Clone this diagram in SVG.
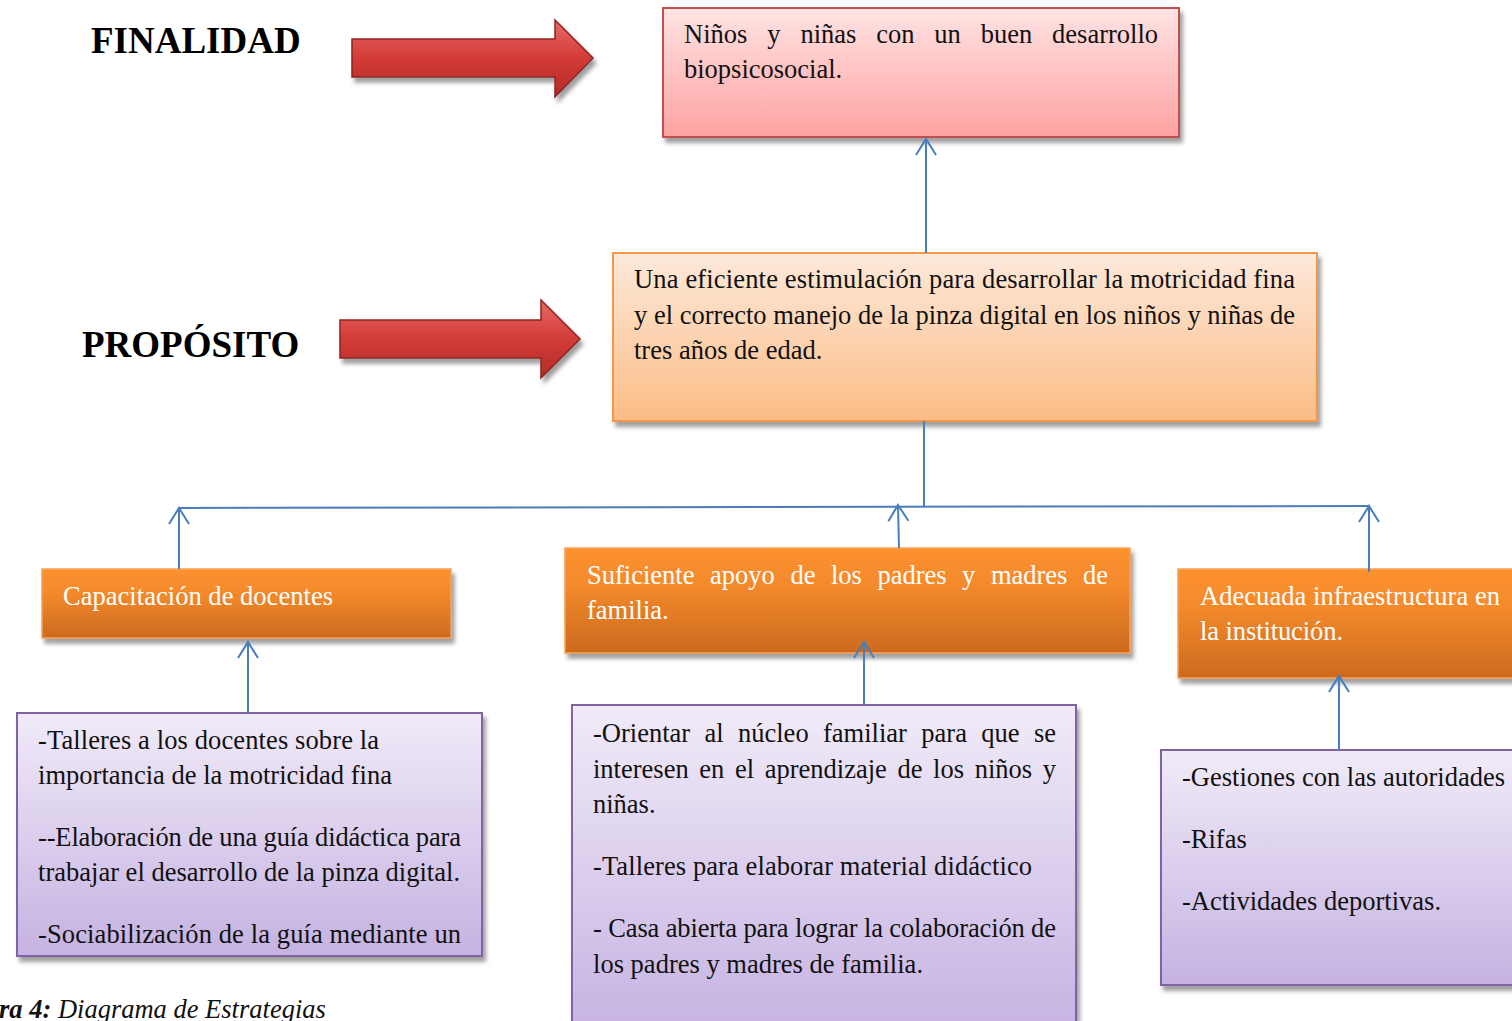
<svg xmlns="http://www.w3.org/2000/svg" width="1512" height="1021" viewBox="0 0 1512 1021">
<defs>
<linearGradient id="gPink" x1="0" y1="0" x2="0" y2="1"><stop offset="0" stop-color="#ffe3e3"/><stop offset="1" stop-color="#ffa2a2"/></linearGradient>
<linearGradient id="gPeach" x1="0" y1="0" x2="0" y2="1"><stop offset="0" stop-color="#fde9da"/><stop offset="1" stop-color="#fcbd86"/></linearGradient>
<linearGradient id="gOrange" x1="0" y1="0" x2="0" y2="1"><stop offset="0" stop-color="#fe912f"/><stop offset="0.35" stop-color="#f38a2c"/><stop offset="1" stop-color="#cc6a1e"/></linearGradient>
<linearGradient id="gPurple" x1="0" y1="0" x2="0" y2="1"><stop offset="0" stop-color="#f1ebf8"/><stop offset="1" stop-color="#c5b2e2"/></linearGradient>
<linearGradient id="gRed" x1="0" y1="0" x2="0" y2="1"><stop offset="0" stop-color="#e86a66"/><stop offset="0.5" stop-color="#d23b37"/><stop offset="1" stop-color="#b42c29"/></linearGradient>
<filter id="sh" x="-5%" y="-10%" width="115%" height="130%"><feDropShadow dx="3" dy="5" stdDeviation="2" flood-color="#7f7f7f" flood-opacity="0.75"/></filter>
<marker id="open" markerUnits="userSpaceOnUse" markerWidth="24" markerHeight="24" viewBox="0 0 20 24" refX="17" refY="11" orient="auto"><path d="M1,1 L17,11 L1,21" fill="none" stroke="#4a7ebb" stroke-width="2"/></marker>
<style>
.t{font-family:"Liberation Serif","Times New Roman",serif;font-size:26.5px;fill:#111;}
.w{font-family:"Liberation Serif","Times New Roman",serif;font-size:26.5px;fill:#fff;}
.h{font-family:"Liberation Serif","Times New Roman",serif;font-size:37px;font-weight:bold;fill:#000;}
.c{fill:none;stroke:#4a7ebb;stroke-width:2;}
.ca{fill:none;stroke:#4a7ebb;stroke-width:2;marker-end:url(#open);}
.arr{fill:url(#gRed);stroke:#8e2220;stroke-width:1.5;filter:url(#sh);}
</style>
</defs>
<rect width="1512" height="1021" fill="#fff"/>

<g id="label-finalidad"><text class="h" x="91" y="53">FINALIDAD</text></g>
<g id="label-proposito"><text class="h" x="82" y="357">PROPÓSITO</text></g>

<g id="arrow-finalidad"><path class="arr" d="M352,39 L555,39 L555,20 L593,58 L555,97 L555,77 L352,77 Z"/></g>
<g id="arrow-proposito"><path class="arr" d="M340,320 L541,320 L541,300 L580,339 L541,378 L541,358 L340,358 Z"/></g>

<g id="node-finalidad">
<rect x="663" y="8" width="516" height="129" fill="url(#gPink)" stroke="#c0504d" stroke-width="2" filter="url(#sh)"/>
<text class="t" y="43"><tspan x="684">Niños</tspan><tspan x="767.2">y</tspan><tspan x="800.4">niñas</tspan><tspan x="876.2">con</tspan><tspan x="934.3">un</tspan><tspan x="980.7">buen</tspan><tspan x="1052.1">desarrollo</tspan></text>
<text class="t" x="684" y="78">biopsicosocial.</text>
</g>

<g id="node-proposito">
<rect x="613" y="253" width="704" height="168" fill="url(#gPeach)" stroke="#f79646" stroke-width="2" filter="url(#sh)"/>
<text class="t" x="634" y="288" textLength="661" lengthAdjust="spacing">Una eficiente estimulación para desarrollar la motricidad fina</text>
<text class="t" x="634" y="324" textLength="661" lengthAdjust="spacing">y el correcto manejo de la pinza digital en los niños y niñas de</text>
<text class="t" x="634" y="359">tres años de edad.</text>
</g>

<g id="node-capacitacion">
<rect x="42" y="569" width="409" height="69" fill="url(#gOrange)" stroke="#f9a25a" stroke-width="1.5" filter="url(#sh)"/>
<text class="w" x="63" y="605" textLength="270" lengthAdjust="spacing">Capacitación de docentes</text>
</g>

<g id="node-apoyo">
<rect x="565" y="548" width="565" height="105" fill="url(#gOrange)" stroke="#f9a25a" stroke-width="1.5" filter="url(#sh)"/>
<text class="w" y="584"><tspan x="587">Suficiente</tspan><tspan x="710">apoyo</tspan><tspan x="790.4">de</tspan><tspan x="830.9">los</tspan><tspan x="877.4">padres</tspan><tspan x="962.1">y</tspan><tspan x="990.9">madres</tspan><tspan x="1083">de</tspan></text>
<text class="w" x="587" y="619">familia.</text>
</g>

<g id="node-infraestructura">
<rect x="1178" y="569" width="350" height="109" fill="url(#gOrange)" stroke="#f9a25a" stroke-width="1.5" filter="url(#sh)"/>
<text class="w" x="1200" y="605" textLength="300" lengthAdjust="spacing">Adecuada infraestructura en</text>
<text class="w" x="1200" y="640" textLength="143" lengthAdjust="spacing">la institución.</text>
</g>

<g id="node-estrategias-docentes">
<rect x="17" y="713" width="465" height="243" fill="url(#gPurple)" stroke="#8064a2" stroke-width="2" filter="url(#sh)"/>
<text class="t" x="38" y="749" textLength="341" lengthAdjust="spacing">-Talleres a los docentes sobre la</text>
<text class="t" x="38" y="784" textLength="354" lengthAdjust="spacing">importancia de la motricidad fina</text>
<text class="t" x="38" y="846" textLength="423" lengthAdjust="spacing">--Elaboración de una guía didáctica para</text>
<text class="t" x="38" y="881" textLength="422" lengthAdjust="spacing">trabajar el desarrollo de la pinza digital.</text>
<text class="t" x="38" y="943" textLength="423" lengthAdjust="spacing">-Sociabilización de la guía mediante un</text>
</g>

<g id="node-estrategias-padres">
<rect x="572" y="705" width="504" height="330" fill="url(#gPurple)" stroke="#8064a2" stroke-width="2" filter="url(#sh)"/>
<text class="t" y="742"><tspan x="593">-Orientar</tspan><tspan x="704.5">al</tspan><tspan x="738">núcleo</tspan><tspan x="823">familiar</tspan><tspan x="921.3">para</tspan><tspan x="981.2">que</tspan><tspan x="1033.9">se</tspan></text>
<text class="t" y="778"><tspan x="593">interesen</tspan><tspan x="699.3">en</tspan><tspan x="735">el</tspan><tspan x="764.7">aprendizaje</tspan><tspan x="897.5">de</tspan><tspan x="933.1">los</tspan><tspan x="974.7">niños</tspan><tspan x="1042.8">y</tspan></text>
<text class="t" x="593" y="813">niñas.</text>
<text class="t" x="593" y="875" textLength="439" lengthAdjust="spacing">-Talleres para elaborar material didáctico</text>
<text class="t" x="593" y="937" textLength="463" lengthAdjust="spacing">- Casa abierta para lograr la colaboración de</text>
<text class="t" x="593" y="973" textLength="330" lengthAdjust="spacing">los padres y madres de familia.</text>
</g>

<g id="node-estrategias-infraestructura">
<rect x="1161" y="750" width="370" height="235" fill="url(#gPurple)" stroke="#8064a2" stroke-width="2" filter="url(#sh)"/>
<text class="t" x="1182" y="786">-Gestiones con las autoridades</text>
<text class="t" x="1182" y="848">-Rifas</text>
<text class="t" x="1182" y="910">-Actividades deportivas.</text>
</g>

<g id="connectors">
<line class="ca" x1="926" y1="253" x2="926" y2="139"/>
<line class="c" x1="924" y1="421" x2="924" y2="507"/>
<line class="c" x1="179" y1="508" x2="1369" y2="506"/>
<line class="ca" x1="179" y1="569" x2="179" y2="508"/>
<line class="ca" x1="899" y1="548" x2="898" y2="505"/>
<line class="ca" x1="1369" y1="572" x2="1369" y2="506"/>
<line class="ca" x1="248" y1="713" x2="248" y2="642"/>
<line class="ca" x1="864" y1="705" x2="864" y2="642"/>
<line class="ca" x1="1339" y1="750" x2="1339" y2="676"/>
</g>

<g id="caption">
<text class="t" x="-1" y="1018" font-style="italic"><tspan font-weight="bold">ra 4:</tspan> Diagrama de Estrategias</text>
</g>
</svg>
